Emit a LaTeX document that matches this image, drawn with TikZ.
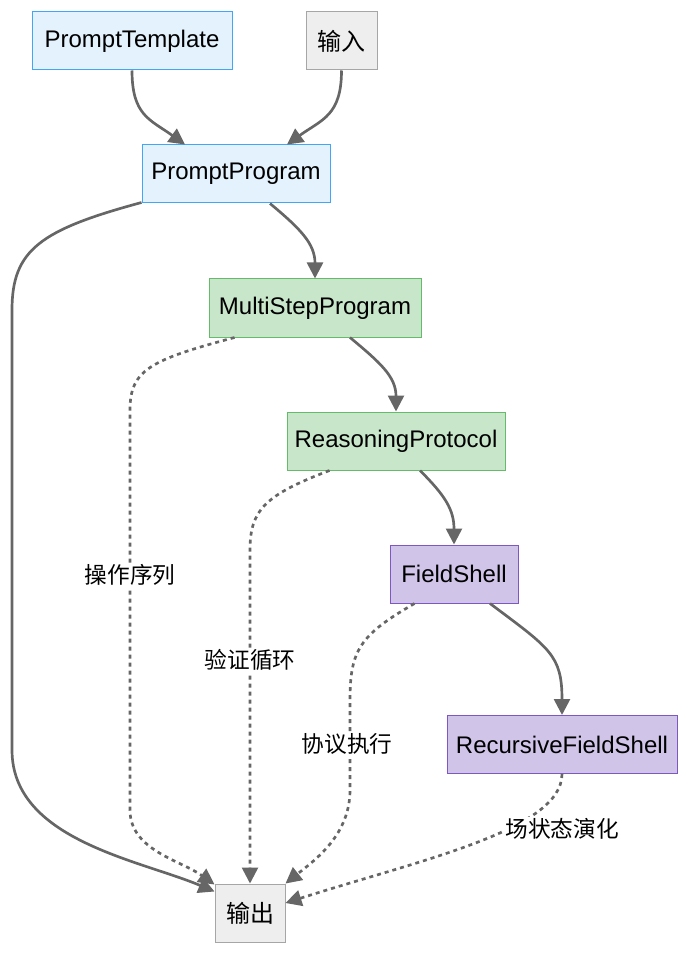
\documentclass[tikz,border=0pt]{standalone}
\usepackage{fontspec}
\setmainfont{Liberation Sans}
\newfontfamily\cjk{Noto Sans CJK SC}
\usetikzlibrary{arrows.meta, calc}

\definecolor{blueFill}{HTML}{E3F2FD}
\definecolor{blueLine}{HTML}{42A5F5}
\definecolor{greyFill}{HTML}{EEEEEE}
\definecolor{greyLine}{HTML}{A6A6A6}
\definecolor{greenFill}{HTML}{C8E6C9}
\definecolor{greenLine}{HTML}{66BB6A}
\definecolor{purpleFill}{HTML}{D1C4E9}
\definecolor{purpleLine}{HTML}{7E57C2}
\definecolor{edgeGrey}{HTML}{666666}

\begin{document}
\begin{tikzpicture}[x = 0.75pt, y = -0.75pt,
	box/.style = {draw, line width = 0.75pt, minimum height = 43.5pt, inner sep = 0pt,
		font = \fontsize{18}{21}\selectfont},
	bluebox/.style = {box, fill = blueFill, draw = blueLine},
	greybox/.style = {box, fill = greyFill, draw = greyLine},
	greenbox/.style = {box, fill = greenFill, draw = greenLine},
	purplebox/.style = {box, fill = purpleFill, draw = purpleLine},
	link/.style = {draw = edgeGrey, line width = 2pt, -{Triangle[length = 12pt, width = 12pt]}},
	dotlink/.style = {link, dash pattern = on 3pt off 3pt},
	lbl/.style = {fill = white, inner sep = 1pt, font = \fontsize{17}{20}\selectfont\cjk}]

	\useasboundingbox (0,0) rectangle (688,955);

	\node[bluebox, minimum width = 150pt] (tmpl) at (132,41) {PromptTemplate};
	\node[greybox, minimum width = 53.25pt] (input) at (341.5,41) {\cjk 输入};
	\node[bluebox, minimum width = 141pt] (prog) at (236,174) {PromptProgram};
	\node[greenbox, minimum width = 159pt] (multi) at (315,308) {MultiStepProgram};
	\node[greenbox, minimum width = 163.5pt] (reason) at (396,441) {ReasoningProtocol};
	\node[purplebox, minimum width = 96pt] (field) at (454,574) {FieldShell};
	\node[purplebox, minimum width = 172.5pt] (recur) at (562,744.5) {RecursiveFieldShell};
	\node[greybox, minimum width = 52.5pt] (out) at (250,913) {\cjk 输出};

	\draw[link] (tmpl.south) .. controls +(0,45) and +(-35,-25) .. ($(prog.north)+(-51,0)$);
	\draw[link] (input.south) .. controls +(0,45) and +(35,-25) .. ($(prog.north)+(51,0)$);
	\draw[link] ($(prog.south west)+(0,-1)$) .. controls (40,230) and (12,250) .. (12,310)
		-- (12,750) .. controls (12,840) and (140,860) .. ($(out.north west)+(0,8)$);
	\draw[link] ($(prog.south)+(34,0)$) .. controls +(30,25) and +(0,-35) .. (multi.north);
	\draw[dotlink] ($(multi.south west)+(26,0)$) .. controls (150,360) and (130,370) .. (130,410)
		-- (130,810) .. controls (130,850) and (180,860) .. ($(out.north west)+(0,1)$);
	\draw[link] ($(multi.south)+(35,0)$) .. controls +(30,25) and +(0,-35) .. (reason.north);
	\draw[dotlink] ($(reason.south west)+(43,0)$) .. controls (265,495) and (250,510) .. (250,550)
		-- (out.north);
	\draw[link] ($(reason.south)+(24,0)$) .. controls +(25,25) and +(0,-35) .. (field.north);
	\draw[dotlink] ($(field.south west)+(25,0)$) .. controls (360,635) and (350,650) .. (350,700)
		-- (350,790) .. controls (350,835) and (315,860) .. (out.north east);
	\draw[link] ($(field.south)+(36,0)$) .. controls +(60,45) and +(0,-60) .. (recur.north);
	\draw[dotlink] (recur.south) .. controls +(0,56) and (420,860) .. ($(out.east)+(0,-10)$);

	\node[lbl] (l1) at (130,575) {操作序列};
	\node[lbl] (l2) at (250,660) {验证循环};
	\node[lbl] (l3) at (347,744) {协议执行};
	\node[lbl] (l4) at (562,829) {场状态演化};
\end{tikzpicture}
\end{document}
